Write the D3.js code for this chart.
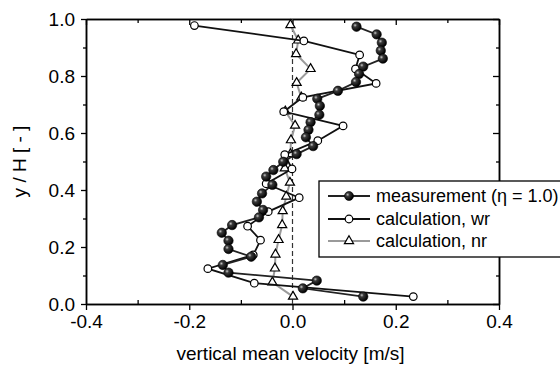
<!DOCTYPE html>
<html>
<head>
<meta charset="utf-8">
<script src="https://cdn.jsdelivr.net/npm/d3@7"></script>
<style>
  body { margin: 0; background: #fff; }
  text { font-family: "Liberation Sans", Arial, sans-serif; }
</style>
</head>
<body>
<div id="chart"></div>
<script>
// measurement (eta = 1.0)
var measY = [0.973, 0.946, 0.917, 0.889, 0.861, 0.833, 0.807, 0.779, 0.748, 0.720,
             0.695, 0.664, 0.638, 0.611, 0.585, 0.554, 0.526, 0.499, 0.470, 0.447,
             0.418, 0.388, 0.359, 0.330, 0.304, 0.277, 0.250, 0.222, 0.193, 0.166,
             0.137, 0.110, 0.082, 0.055, 0.026];
var measV = [0.124, 0.163, 0.173, 0.171, 0.175, 0.137, 0.129, 0.123, 0.088, 0.048,
             0.053, 0.052, 0.035, 0.031, 0.026, 0.040, 0.008, -0.018, -0.037, -0.051,
             -0.039, -0.059, -0.069, -0.057, -0.065, -0.117, -0.137, -0.124, -0.124, -0.080,
             -0.135, -0.124, 0.047, 0.020, 0.137];
// calculation, wr
var wrY = [0.977, 0.923, 0.874, 0.825, 0.774, 0.725, 0.675, 0.625, 0.573, 0.524,
           0.474, 0.422, 0.373, 0.324, 0.273, 0.224, 0.172, 0.124, 0.073, 0.026];
var wrV = [-0.190, 0.022, 0.130, 0.122, 0.162, 0.020, -0.017, 0.098, 0.049, -0.015,
           -0.001, -0.051, 0.013, -0.047, -0.087, -0.062, -0.076, -0.164, -0.074, 0.234];
// calculation, nr
var nrY = [0.979, 0.925, 0.877, 0.825, 0.776, 0.725, 0.676, 0.626, 0.575, 0.526,
           0.476, 0.426, 0.377, 0.326, 0.277, 0.225, 0.174, 0.125, 0.076, 0.026];
var nrV = [-0.004, 0.011, 0.007, 0.035, 0.008, 0.017, -0.014, 0.005, -0.003, -0.004,
           -0.015, -0.005, -0.012, -0.019, -0.020, -0.027, -0.033, -0.034, -0.039, 0.001];

var xMajor = [-0.4, -0.2, 0.0, 0.2, 0.4];
var xMinor = [-0.3, -0.1, 0.1, 0.3];
var yMajor = [0.0, 0.2, 0.4, 0.6, 0.8, 1.0];
var yMinor = [0.1, 0.3, 0.5, 0.7, 0.9];
var legendLabels = ["measurement (\u03B7 = 1.0)", "calculation, wr", "calculation, nr"];

var width = 560, height = 368;
var plotL = 86, plotR = 499, plotT = 19, plotB = 304;

var svg = d3.select("#chart").append("svg")
    .attr("width", width)
    .attr("height", height);

svg.append("rect").attr("width", width).attr("height", height).attr("fill", "#fff");

// gradient for the shaded balls
var grad = svg.append("defs").append("radialGradient")
    .attr("id", "ball").attr("cx", "35%").attr("cy", "35%").attr("r", "65%");
grad.append("stop").attr("offset", "0%").attr("stop-color", "#c8c8c8");
grad.append("stop").attr("offset", "30%").attr("stop-color", "#3a3a3a");
grad.append("stop").attr("offset", "100%").attr("stop-color", "#000");

var x = d3.scaleLinear().domain([-0.4, 0.4]).range([plotL, plotR]);
var y = d3.scaleLinear().domain([0, 1]).range([plotB, plotT]);

function styleAxis(g) {
  g.select(".domain").attr("stroke", "#000").attr("stroke-width", 1.5);
  g.selectAll(".tick line").attr("stroke", "#000").attr("stroke-width", 1.3);
  g.selectAll("text").attr("font-size", 19).attr("fill", "#000")
    .attr("font-family", "'Liberation Sans', Arial, sans-serif");
}

// plain hyphen minus, like the original
var fmt = function (d) { return d3.format(".1f")(d).replace("\u2212", "-"); };

// bottom
svg.append("g").attr("transform", "translate(0," + plotB + ")")
  .call(d3.axisBottom(x).tickValues(xMajor).tickFormat(fmt).tickSizeInner(6).tickSizeOuter(0).tickPadding(5))
  .call(styleAxis);
svg.append("g").attr("transform", "translate(0," + plotB + ")")
  .call(d3.axisBottom(x).tickValues(xMinor).tickFormat("").tickSizeInner(-4).tickSizeOuter(0))
  .call(styleAxis);
// top
svg.append("g").attr("transform", "translate(0," + plotT + ")")
  .call(d3.axisTop(x).tickValues(xMajor).tickFormat("").tickSizeInner(-6).tickSizeOuter(0))
  .call(styleAxis);
svg.append("g").attr("transform", "translate(0," + plotT + ")")
  .call(d3.axisTop(x).tickValues(xMinor).tickFormat("").tickSizeInner(-4).tickSizeOuter(0))
  .call(styleAxis);
// left
svg.append("g").attr("transform", "translate(" + plotL + ",0)")
  .call(d3.axisLeft(y).tickValues(yMajor).tickFormat(fmt).tickSizeInner(5).tickSizeOuter(0).tickPadding(6))
  .call(styleAxis);
svg.append("g").attr("transform", "translate(" + plotL + ",0)")
  .call(d3.axisLeft(y).tickValues(yMinor).tickFormat("").tickSizeInner(3).tickSizeOuter(0))
  .call(styleAxis);
// right
svg.append("g").attr("transform", "translate(" + plotR + ",0)")
  .call(d3.axisRight(y).tickValues(yMajor).tickFormat("").tickSizeInner(-6).tickSizeOuter(0))
  .call(styleAxis);
svg.append("g").attr("transform", "translate(" + plotR + ",0)")
  .call(d3.axisRight(y).tickValues(yMinor).tickFormat("").tickSizeInner(-3).tickSizeOuter(0))
  .call(styleAxis);

// axis titles
svg.append("text")
  .attr("x", (plotL + plotR) / 2 - 2).attr("y", 360)
  .attr("text-anchor", "middle").attr("font-size", 19)
  .text("vertical  mean velocity [m/s]");
svg.append("text")
  .attr("transform", "translate(26," + (plotT + plotB) / 2 + ") rotate(-90)")
  .attr("text-anchor", "middle").attr("font-size", 19)
  .text("y / H [ - ]");

// dashed zero line
svg.append("line")
  .attr("x1", x(0)).attr("x2", x(0))
  .attr("y1", y(0)).attr("y2", y(1))
  .attr("stroke", "#333").attr("stroke-width", 1.2)
  .attr("stroke-dasharray", "5,3");

function pts(vs, ys) {
  return vs.map(function (v, i) { return { v: v, y: ys[i] }; });
}
var meas = pts(measV, measY), wr = pts(wrV, wrY), nr = pts(nrV, nrY);

var line = d3.line()
  .x(function (d) { return x(d.v); })
  .y(function (d) { return y(d.y); });

var tri = d3.symbol().type(d3.symbolTriangle).size(36);

// nr
svg.append("path").datum(nr)
  .attr("fill", "none").attr("stroke", "#9a9a9a").attr("stroke-width", 2)
  .attr("d", line);
svg.selectAll(".nr").data(nr).enter().append("path")
  .attr("transform", function (d) { return "translate(" + x(d.v) + "," + y(d.y) + ")"; })
  .attr("d", tri)
  .attr("fill", "#fff").attr("stroke", "#000").attr("stroke-width", 1.2);

// wr
svg.append("path").datum(wr)
  .attr("fill", "none").attr("stroke", "#111").attr("stroke-width", 1.8)
  .attr("d", line);
svg.selectAll(".wr").data(wr).enter().append("circle")
  .attr("cx", function (d) { return x(d.v); })
  .attr("cy", function (d) { return y(d.y); })
  .attr("r", 3.8)
  .attr("fill", "#fff").attr("stroke", "#000").attr("stroke-width", 1.2);

// measurement
svg.append("path").datum(meas)
  .attr("fill", "none").attr("stroke", "#222").attr("stroke-width", 1.8)
  .attr("d", line);
svg.selectAll(".meas").data(meas).enter().append("circle")
  .attr("cx", function (d) { return x(d.v); })
  .attr("cy", function (d) { return y(d.y); })
  .attr("r", 4.7)
  .attr("fill", "url(#ball)").attr("stroke", "#000").attr("stroke-width", 0.6);

// legend
var lg = svg.append("g");
lg.append("rect")
  .attr("x", 319).attr("y", 181).attr("width", 260).attr("height", 76)
  .attr("fill", "#fff").attr("stroke", "#000").attr("stroke-width", 1.3);
var rowY = [196, 219, 241];
var rowStroke = ["#222", "#111", "#9a9a9a"];
rowY.forEach(function (ry, i) {
  lg.append("line").attr("x1", 328).attr("x2", 370).attr("y1", ry).attr("y2", ry)
    .attr("stroke", rowStroke[i]).attr("stroke-width", 1.8);
  if (i === 0) {
    lg.append("circle").attr("cx", 349).attr("cy", ry).attr("r", 4.5)
      .attr("fill", "url(#ball)").attr("stroke", "#000").attr("stroke-width", 0.6);
  } else if (i === 1) {
    lg.append("circle").attr("cx", 349).attr("cy", ry).attr("r", 3.8)
      .attr("fill", "#fff").attr("stroke", "#000").attr("stroke-width", 1.2);
  } else {
    lg.append("path").attr("transform", "translate(349," + ry + ")").attr("d", tri)
      .attr("fill", "#fff").attr("stroke", "#000").attr("stroke-width", 1.2);
  }
  lg.append("text").attr("x", 376).attr("y", ry).attr("dy", "0.35em")
    .attr("font-size", 18).text(legendLabels[i]);
});
</script>
</body>
</html>
